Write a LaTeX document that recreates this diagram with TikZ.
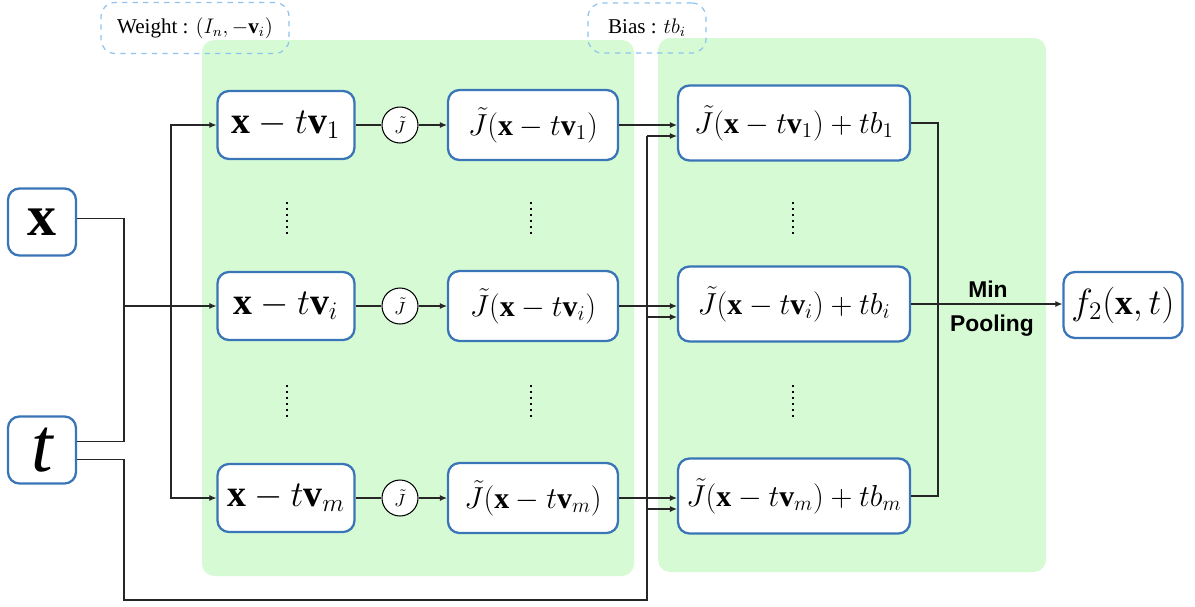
\documentclass[tikz,border=0pt]{standalone}
\usepackage{amsmath}
\usepackage{fontspec}
\setmainfont{Liberation Serif}
\newfontfamily\poolfont{Liberation Sans}
\usetikzlibrary{arrows.meta,calc}
\definecolor{boxblue}{RGB}{58,117,184}
\definecolor{panelgreen}{RGB}{214,251,212}
\definecolor{dashblue}{RGB}{142,195,240}

\tikzset{
  unitbox/.style={draw=boxblue, line width=1.3pt, rounded corners=6.5pt, fill=white, inner sep=2pt},
  inbox/.style={unitbox, minimum width=1.36cm, minimum height=1.34cm, font=\fontsize{33}{36}\selectfont},
  shiftbox/.style={unitbox, minimum width=2.74cm, minimum height=1.36cm, font=\fontsize{21.5}{24}\selectfont},
  actbox/.style={unitbox, minimum width=3.4cm, minimum height=1.4cm, font=\fontsize{17}{20}\selectfont},
  biasbox/.style={unitbox, minimum width=4.64cm, minimum height=1.5cm, font=\fontsize{17}{20}\selectfont},
  actcirc/.style={circle, draw, line width=0.6pt, fill=white, minimum size=0.72cm, inner sep=0pt, font=\fontsize{10}{12}\selectfont},
  tagbox/.style={draw=dashblue, dashed, rounded corners=8pt, line width=0.7pt, font=\fontsize{12}{14}\selectfont},
  poolbox/.style={font=\poolfont\bfseries\fontsize{13}{15}\selectfont},
  wire/.style={line width=0.6pt, black!85},
  arr/.style={wire, -{Latex[length=4pt,width=3.5pt]}},
}

\begin{document}
\begin{tikzpicture}[x=0.02cm, y=-0.02cm]
  \useasboundingbox (0,0) rectangle (1195,606);

  % Background panels
  \fill[panelgreen,rounded corners=7pt] (202,40) rectangle (634,576);
  \fill[panelgreen,rounded corners=7pt] (658,38) rectangle (1046,572);

  % Parameter tags
  \node[tagbox,minimum width=3.76cm,minimum height=1.02cm] (wtag) at (195,28)
    {Weight : $(I_n,-\mathbf{v}_i)$};
  \node[tagbox,minimum width=2.36cm,minimum height=1.0cm] (btag) at (647,28)
    {Bias : $tb_i$};

  % Inputs
  \node[inbox] (xin) at (42,222) {$\mathbf{x}$};
  \node[inbox,font=\fontsize{44}{46}\selectfont] (tin) at (42,450) {$\mathit{t}$};

  % Rows: shift, activation, bias
  \foreach \k/\yy in {1/125, i/306, m/498}{
    \node[shiftbox] (xv\k) at (286,\yy) {$\mathbf{x}-t\mathbf{v}_\k$};
    \node[actcirc] (ac\k) at (400,\yy) {$\tilde{J}$};
    \node[actbox] (jv\k) at (533,\yy) {$\tilde{J}(\mathbf{x}-t\mathbf{v}_\k)$};
    \node[biasbox] (jb\k) at (794,\yy-2) {$\tilde{J}(\mathbf{x}-t\mathbf{v}_\k)+tb_\k$};
    \draw[wire] (xv\k) -- (ac\k);
    \draw[arr] (ac\k) -- (jv\k);
    \draw[arr] (jv\k.east) -- (jv\k.east -| jb\k.west);
    \coordinate (tb\k) at (647,\yy+11);
    \draw[arr] (tb\k) -- (tb\k -| jb\k.west);
  }

  % Vertical dots
  \foreach \dx in {287,531,793}{
    \foreach \dy in {202,385}{
      \draw[line width=1.1pt, dash pattern=on 1.1pt off 2.3pt] (\dx,\dy) -- (\dx,\dy+32);
    }
  }

  % Input wiring
  \coordinate (jn) at (124,306);
  \coordinate (bj) at (171,306);
  \coordinate (tlow) at (124,600);
  \draw[wire] ([yshift=2pt]xin.east) -| (jn);
  \draw[wire] ([yshift=5pt]tin.east) -| (jn);
  \draw[arr] (jn) -- (xvi);
  \draw[arr] (bj) |- (xv1.west);
  \draw[arr] (bj) |- (xvm.west);
  \draw[wire] ([yshift=-5.5pt]tin.east) -| (tlow) -| (tb1);

  % Min pooling
  \node[unitbox,minimum width=2.38cm,minimum height=1.32cm,
    font=\fontsize{20}{24}\selectfont] (f2) at (1123,305) {$f_2(\mathbf{x},t)$};
  \coordinate (mp) at (938,304);
  \draw[wire] (jb1.east) -| (mp);
  \draw[wire] (jbm.east) -| (mp);
  \draw[arr] (jbi.east) -- (jbi.east -| f2.west);
  \node[poolbox] (pmin) at (988,289) {Min};
  \node[poolbox] (ppool) at (992,326) {Pooling};
\end{tikzpicture}
\end{document}
